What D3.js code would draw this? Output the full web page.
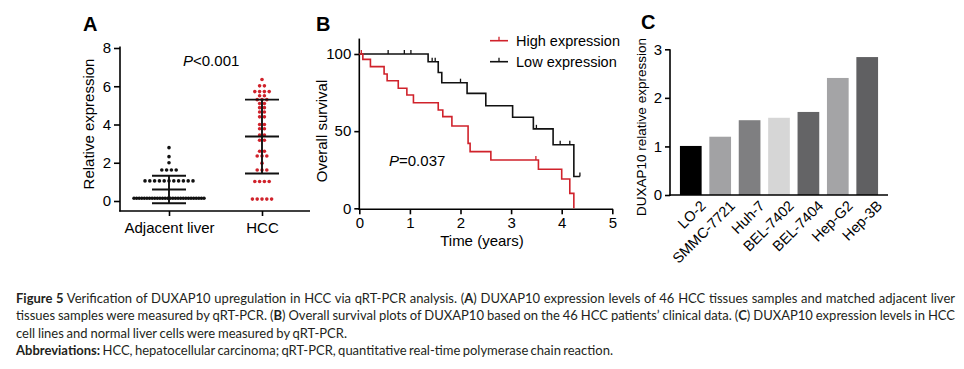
<!DOCTYPE html>
<html>
<head>
<meta charset="utf-8">
<script src="https://cdn.jsdelivr.net/npm/d3@7"></script>
<style>
  body { margin: 0; background: #fff; }
  svg { display: block; font-family: "Liberation Sans", Arial, sans-serif; }
  .axis text { font-size: 15px; fill: #000; font-family: "Liberation Sans", Arial, sans-serif; }
  .axis path, .axis line { stroke: #000; stroke-width: 1.6; }
</style>
</head>
<body>
<div id="chart"></div>
<script>
// Panel A: scatter of relative expression
const groupsA = ["Adjacent liver", "HCC"];
const adjacentValues = [
  0.14, 0.14, 0.14, 0.14, 0.14, 0.14, 0.14, 0.14, 0.14, 0.14, 0.14, 0.14, 0.14, 0.14,
  0.14, 0.14, 0.14, 0.14, 0.14, 0.14, 0.14, 0.14, 0.14, 0.14, 0.14, 0.14, 0.14, 0.14,
  1.05, 1.05, 1.05, 1.05, 1.05, 1.05, 1.05, 1.05, 1.05, 1.05, 1.05,
  1.62, 1.62, 1.62, 1.62, 2.0, 2.32, 2.79
];
const hccValues = [
  6.35, 6.02, 6.02, 5.72, 5.72, 5.72, 5.72, 5.5, 5.5, 5.3, 5.3, 5.3, 5.1, 5.1,
  4.88, 4.88, 4.65, 4.65, 4.4, 4.4, 4.0, 4.0, 3.78, 3.78, 3.45, 3.45, 3.18, 3.18,
  2.6, 2.6, 2.35, 2.35, 2.35, 1.98, 1.62, 1.62, 1.62, 1.02, 1.02, 1.02, 1.02,
  0.1, 0.1, 0.1, 0.1, 0.1
];
const meansA = [0.6, 3.37];
const sdsA = [0.72, 1.93];
const ticksA = [0, 2, 4, 6, 8];

// Panel B: Kaplan-Meier steps (years, % survival)
const highTimes = [0, 0.07, 0.22, 0.49, 0.55, 0.77, 0.94, 1.07, 1.56, 1.65, 1.83, 2.15, 2.19, 2.60, 3.54, 4.0, 4.16, 4.24];
const highSurv  = [100, 96.5, 91.8, 87, 82.7, 77.8, 73.4, 68.4, 63.7, 59.4, 53.3, 42.1, 36.7, 31.3, 25.3, 19, 9.7, 0];
const highEnd = 4.24;
const highCensor = [0.04, 3.49];
const lowTimes = [0, 1.36, 1.56, 1.63, 2.13, 2.50, 3.03, 3.44, 3.83, 4.24];
const lowSurv  = [100, 95, 88, 81.4, 74.5, 66.5, 59, 51.5, 41.2, 20.6];
const lowEnd = 4.36;
const lowCensor = [0.57, 0.89, 1.02, 1.44, 1.50, 2.0, 3.5, 3.97, 4.16, 4.36];
const ticksBx = [0, 1, 2, 3, 4, 5];
const ticksBy = [0, 50, 100];

// Panel C: cell lines
const cellLines = ["LO-2", "SMMC-7721", "Huh-7", "BEL-7402", "BEL-7404", "Hep-G2", "Hep-3B"];
const cellValues = [1.01, 1.2, 1.54, 1.59, 1.71, 2.41, 2.84];
const cellColors = ["#000000", "#a2a2a4", "#7f7f81", "#d6d6d6", "#646466", "#a4a4a6", "#606062"];
const ticksC = [0, 1, 2, 3];

const red = "#d0222b";

const svg = d3.select("#chart").append("svg")
  .attr("width", 964)
  .attr("height", 369);

// ---------- Panel A ----------
const yA = d3.scaleLinear().domain([0, 8]).range([201, 48]);
const xA = d3.scalePoint().domain(groupsA).range([169, 262]);

svg.append("text").attr("x", 83).attr("y", 31)
  .style("font-size", "20px").style("font-weight", "bold").text("A");

const gAy = svg.append("g").attr("class", "axis")
  .attr("transform", "translate(120,0)")
  .call(d3.axisLeft(yA).tickValues(ticksA).tickSize(6).tickPadding(3).tickSizeOuter(0));
gAy.select(".domain").remove();
gAy.append("line").attr("y1", 46.5).attr("y2", 211.5);

const gAx = svg.append("g").attr("class", "axis")
  .attr("transform", "translate(0,211)")
  .call(d3.axisBottom(xA).tickSize(5).tickPadding(6));
gAx.select(".domain").remove();
gAx.append("line").attr("x1", 119.2).attr("x2", 310);

svg.append("text")
  .attr("transform", "translate(94,124) rotate(-90)")
  .attr("text-anchor", "middle").style("font-size", "15px")
  .text("Relative expression");

const pA = svg.append("text").attr("x", 183).attr("y", 66).style("font-size", "15px");
pA.append("tspan").style("font-style", "italic").text("P");
pA.append("tspan").text("<0.001");

function spreadDots(values, cx, maxW, gap) {
  const rows = d3.groups(values, v => v);
  const pts = [];
  rows.forEach(([v, arr]) => {
    const n = arr.length;
    const step = n > 1 ? Math.min(gap, maxW / (n - 1)) : 0;
    arr.forEach((_, i) => pts.push({ x: cx + (i - (n - 1) / 2) * step, v }));
  });
  return pts;
}

[adjacentValues, hccValues].forEach((vals, gi) => {
  const cx = xA(groupsA[gi]);
  svg.append("g").selectAll("circle")
    .data(spreadDots(vals, cx, 70, 4.8))
    .join("circle")
    .attr("cx", d => d.x)
    .attr("cy", d => yA(d.v))
    .attr("r", 1.8)
    .attr("fill", gi === 0 ? "#111" : red);

  const m = meansA[gi], s = sdsA[gi];
  const eb = svg.append("g").attr("stroke", "#111").attr("stroke-width", 1.9);
  eb.append("line").attr("x1", cx).attr("x2", cx).attr("y1", yA(m + s)).attr("y2", yA(m - s));
  [m + s, m, m - s].forEach(v => {
    eb.append("line").attr("x1", cx - 17).attr("x2", cx + 17).attr("y1", yA(v)).attr("y2", yA(v));
  });
});

// ---------- Panel B ----------
const xB = d3.scaleLinear().domain([0, 5]).range([359.3, 612.3]);
const yB = d3.scaleLinear().domain([0, 100]).range([208.3, 54]);

svg.append("text").attr("x", 316).attr("y", 31)
  .style("font-size", "20px").style("font-weight", "bold").text("B");

const gBy = svg.append("g").attr("class", "axis")
  .attr("transform", "translate(359.3,0)")
  .call(d3.axisLeft(yB).tickValues(ticksBy).tickSize(5).tickPadding(3).tickSizeOuter(0));
gBy.select(".domain").remove();
gBy.append("line").attr("y1", yB(110)).attr("y2", 210);

const gBx = svg.append("g").attr("class", "axis")
  .attr("transform", "translate(0,209.3)")
  .call(d3.axisBottom(xB).tickValues(ticksBx).tickFormat(d3.format("d"))
    .tickSize(5).tickPadding(3).tickSizeOuter(0));
gBx.select(".domain").remove();
gBx.append("line").attr("x1", 358.5).attr("x2", xB(5) + 0.8);

svg.append("text").attr("x", 482).attr("y", 246)
  .attr("text-anchor", "middle").style("font-size", "15px").text("Time (years)");
svg.append("text")
  .attr("transform", "translate(327,131) rotate(-90)")
  .attr("text-anchor", "middle").style("font-size", "15px")
  .text("Overall survival");

const pB = svg.append("text").attr("x", 389).attr("y", 166).style("font-size", "15px");
pB.append("tspan").style("font-style", "italic").text("P");
pB.append("tspan").text("=0.037");

const stepLine = d3.line().x(d => xB(d[0])).y(d => yB(d[1])).curve(d3.curveStepAfter);
function kmPoints(times, surv, end) {
  const pts = times.map((t, i) => [t, surv[i]]);
  pts.push([end, surv[surv.length - 1]]);
  return pts;
}
function survAt(times, surv, t) {
  let s = surv[0];
  times.forEach((tt, i) => { if (tt <= t) s = surv[i]; });
  return s;
}
[
  { times: lowTimes, surv: lowSurv, end: lowEnd, censor: lowCensor, color: "#111" },
  { times: highTimes, surv: highSurv, end: highEnd, censor: highCensor, color: red }
].forEach(sr => {
  svg.append("path")
    .attr("d", stepLine(kmPoints(sr.times, sr.surv, sr.end)))
    .attr("fill", "none").attr("stroke", sr.color).attr("stroke-width", 1.6);
  svg.append("g").selectAll("line")
    .data(sr.censor)
    .join("line")
    .attr("x1", d => xB(d)).attr("x2", d => xB(d))
    .attr("y1", d => yB(survAt(sr.times, sr.surv, d)))
    .attr("y2", d => yB(survAt(sr.times, sr.surv, d)) - 4)
    .attr("stroke", sr.color).attr("stroke-width", 1.3);
});

const legendB = [
  { label: "High expression", color: red, y: 40.7 },
  { label: "Low expression", color: "#111", y: 61.7 }
];
legendB.forEach(l => {
  svg.append("line").attr("x1", 490).attr("x2", 508).attr("y1", l.y).attr("y2", l.y)
    .attr("stroke", l.color).attr("stroke-width", 1.6);
  svg.append("line").attr("x1", 499).attr("x2", 499).attr("y1", l.y).attr("y2", l.y - 4)
    .attr("stroke", l.color).attr("stroke-width", 1.3);
  svg.append("text").attr("x", 516).attr("y", l.y + 5.5)
    .style("font-size", "14.5px").text(l.label);
});

// ---------- Panel C ----------
const xC = d3.scaleBand().domain(cellLines).range([670, 888])
  .paddingInner(0.262).paddingOuter(0.338);
const yC = d3.scaleLinear().domain([0, 3]).range([195, 49.3]);

svg.append("text").attr("x", 641).attr("y", 29)
  .style("font-size", "20px").style("font-weight", "bold").text("C");

svg.append("g").selectAll("rect")
  .data(cellLines)
  .join("rect")
  .attr("x", d => xC(d))
  .attr("width", xC.bandwidth())
  .attr("y", (d, i) => yC(cellValues[i]))
  .attr("height", (d, i) => yC(0) - yC(cellValues[i]))
  .attr("fill", (d, i) => cellColors[i]);

const gCy = svg.append("g").attr("class", "axis")
  .attr("transform", "translate(670,0)")
  .call(d3.axisLeft(yC).tickValues(ticksC).tickFormat(d3.format("d")).tickSize(5).tickPadding(3).tickSizeOuter(0));
gCy.select(".domain").remove();
gCy.append("line").attr("y1", yC(3)).attr("y2", 196);

const gCx = svg.append("g").attr("class", "axis")
  .attr("transform", "translate(0,195)")
  .call(d3.axisBottom(xC).tickSize(0).tickSizeOuter(0));
gCx.select(".domain").remove();
gCx.append("line").attr("x1", 669.2).attr("x2", 888);
gCx.selectAll(".tick text")
  .attr("text-anchor", "end")
  .attr("dx", "0.2em").attr("dy", "0.55em")
  .attr("transform", "translate(6,6) rotate(-45)")
  .style("font-size", "14.5px");

svg.append("text")
  .attr("transform", "translate(646,127) rotate(-90)")
  .attr("text-anchor", "middle").style("font-size", "13.5px")
  .text("DUXAP10 relative expression");

// ---------- Caption ----------
const captionLines = [
  [["Figure 5", true], [" Verification of DUXAP10 upregulation in HCC via qRT-PCR analysis. (", false], ["A", true],
   [") DUXAP10 expression levels of 46 HCC tissues samples and matched adjacent liver", false]],
  [["tissues samples were measured by qRT-PCR. (", false], ["B", true],
   [") Overall survival plots of DUXAP10 based on the 46 HCC patients\u2019 clinical data. (", false], ["C", true],
   [") DUXAP10 expression levels in HCC", false]],
  [["cell lines and normal liver cells were measured by qRT-PCR.", false]],
  [["Abbreviations:", true], [" HCC, hepatocellular carcinoma; qRT-PCR, quantitative real-time polymerase chain reaction.", false]]
];
const captionWidths = [939, 939, 331, 597];
const captionY = [302.5, 320, 337.5, 354.5];

captionLines.forEach((parts, i) => {
  const t = svg.append("text")
    .attr("x", 16).attr("y", captionY[i])
    .style("font-family", "Lato, 'Open Sans', sans-serif")
    .style("font-size", "13px")
    .attr("fill", "#231f20");
  parts.forEach(([s, b]) => {
    t.append("tspan").style("font-weight", b ? "bold" : "normal").text(s);
  });
  // stretch the line to the printed width with word spacing
  const natural = t.node().getComputedTextLength();
  const spaces = parts.map(p => p[0]).join("").split(" ").length - 1;
  if (spaces > 0) t.style("word-spacing", ((captionWidths[i] - natural) / spaces) + "px");
});
</script>
</body>
</html>
